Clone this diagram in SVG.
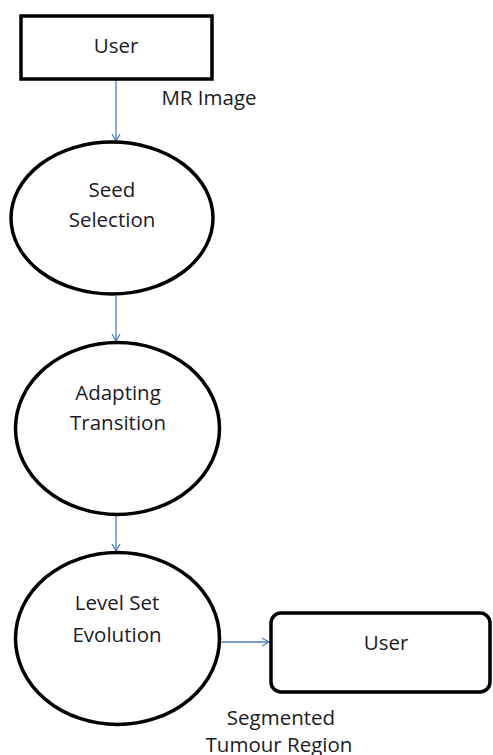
<svg xmlns="http://www.w3.org/2000/svg" width="493" height="755" viewBox="0 0 493 755">
<defs>
<style>
.n{fill:#fff;stroke:#000;stroke-width:3.5}
.t{font-family:"Open Sans","Liberation Sans",sans-serif;font-size:20.5px;fill:#1c1a24;text-anchor:middle}
.c{stroke:#4a7ebb;stroke-width:1.3;fill:none;marker-end:url(#a)}
</style>
<marker id="a" markerWidth="10" markerHeight="10" refX="8" refY="5" orient="auto" markerUnits="userSpaceOnUse">
<path d="M1,1 L8,5 L1,9" fill="none" stroke="#4a7ebb" stroke-width="1.3"/>
</marker>
</defs>
<g id="connectors">
<path class="c" d="M116,80 L116,141"/>
<path class="c" d="M116,296 L116,341"/>
<path class="c" d="M116,516 L116,551"/>
<path class="c" d="M221,642 L269,642"/>
<text class="t" x="209" y="105">MR Image</text>
<text class="t" x="281" y="725">Segmented</text>
<text class="t" x="279" y="752">Tumour Region</text>
</g>
<g id="user1">
<rect class="n" x="21" y="16" width="191" height="63"/>
<text class="t" x="116" y="53">User</text>
</g>
<g id="seed">
<ellipse class="n" cx="112" cy="218" rx="101" ry="76"/>
<text class="t" x="112" y="197">Seed</text>
<text class="t" x="112" y="227">Selection</text>
</g>
<g id="adapting">
<ellipse class="n" cx="117.5" cy="428.5" rx="102" ry="86"/>
<text class="t" x="118" y="400">Adapting</text>
<text class="t" x="118" y="430">Transition</text>
</g>
<g id="levelset">
<ellipse class="n" cx="117.5" cy="638.5" rx="102" ry="86"/>
<text class="t" x="117" y="610">Level Set</text>
<text class="t" x="117" y="642">Evolution</text>
</g>
<g id="user2">
<rect class="n" x="271" y="613" width="219" height="79" rx="10"/>
<text class="t" x="386" y="650">User</text>
</g>
</svg>
